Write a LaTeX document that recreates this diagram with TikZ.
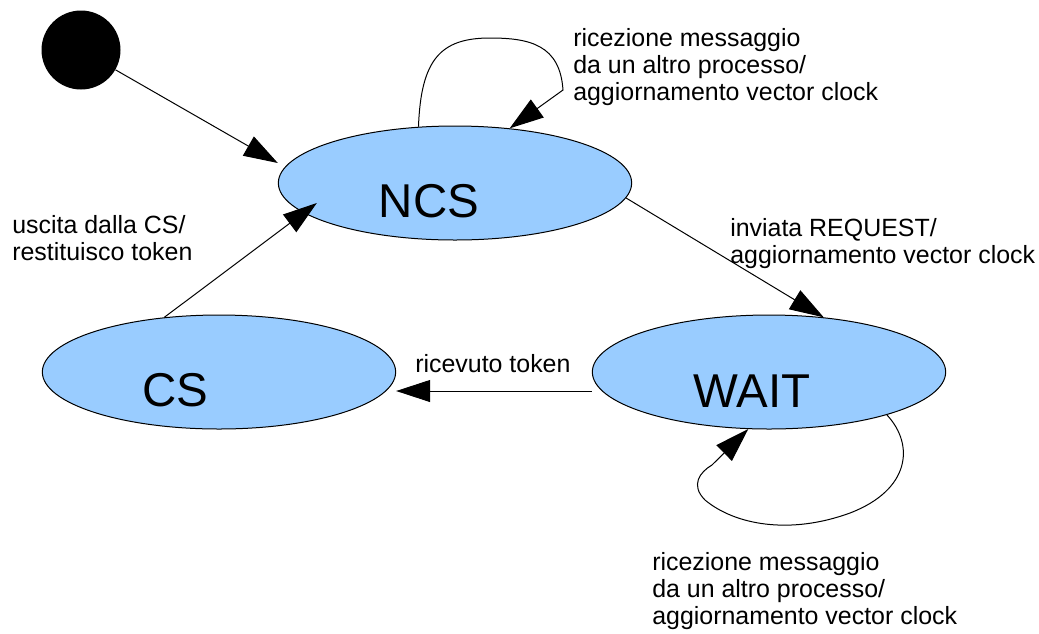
\documentclass[tikz,border=0pt]{standalone}
\usepackage{fontspec}
\setmainfont{Liberation Sans}
\usepackage{tikz}
\usetikzlibrary{shapes.geometric,arrows.meta}
\definecolor{stateBlue}{HTML}{99CCFF}

\begin{document}
\begin{tikzpicture}[
  x=0.75pt, y=-0.75pt,
  state/.style={
    ellipse, draw, line width=0.75pt,
    fill=stateBlue,
    minimum width=265pt, minimum height=85.5pt,
    inner sep=0pt
  },
  statename/.style={
    font=\fontsize{35.6}{40}\selectfont,
    inner sep=0pt, anchor=base
  },
  note/.style={
    font=\fontsize{18.7}{20.25}\selectfont,
    align=left, inner sep=0pt, anchor=north west
  },
  transition/.style={
    draw, line width=0.75pt,
    -{Triangle[length=25.5pt,width=16.5pt]}
  }
]
\useasboundingbox (0,0) rectangle (1039,633);

% states
\node[circle, fill=black, minimum size=59.25pt, inner sep=0pt] (start) at (81,50) {};
\node[state] (ncs) at (455,183) {};
\node[state] (cs) at (219,372) {};
\node[state] (wait) at (769,372) {};
\node[statename] (ncsname) at (429,217) {NCS};
\node[statename] (csname) at (175,406) {CS};
\node[statename] (waitname) at (752,407) {WAIT};

% transitions
\draw[transition] (start) -- ([yshift=15pt]ncs.west);
\draw[transition] (ncs.123) .. controls (421,60) and (440,38) .. (490,38)
  .. controls (530,38) and (560,45) .. (563,90) -- (ncs.45);
\draw[transition] (ncs.-5) -- (wait.45);
\draw[transition] ([yshift=-14.25pt]wait.west) -- ([yshift=-14.25pt]cs.east);
\draw[transition] (cs.135) -- ([xshift=29.25pt,yshift=-15pt]ncs.west);
\draw[transition] (wait.-20) .. controls (915,445) and (910,490) .. (850,513)
  .. controls (790,535) and (735,525) .. (705,500)
  .. controls (690,485) and (700,472) .. (712,465) -- (wait.250);

% labels
\node[note] (ncsloop) at (573,27.1) {\strut ricezione messaggio\\da un altro processo/\\aggiornamento vector clock};
\node[note] (request) at (730,217.1) {\strut inviata REQUEST/\\aggiornamento vector clock};
\node[note] (exitcs) at (12,214.1) {\strut uscita dalla CS/\\restituisco token};
\node[note, anchor=base west] (token) at (415,372) {ricevuto token};
\node[note] (waitloop) at (652,551.1) {\strut ricezione messaggio\\da un altro processo/\\aggiornamento vector clock};
\end{tikzpicture}
\end{document}
